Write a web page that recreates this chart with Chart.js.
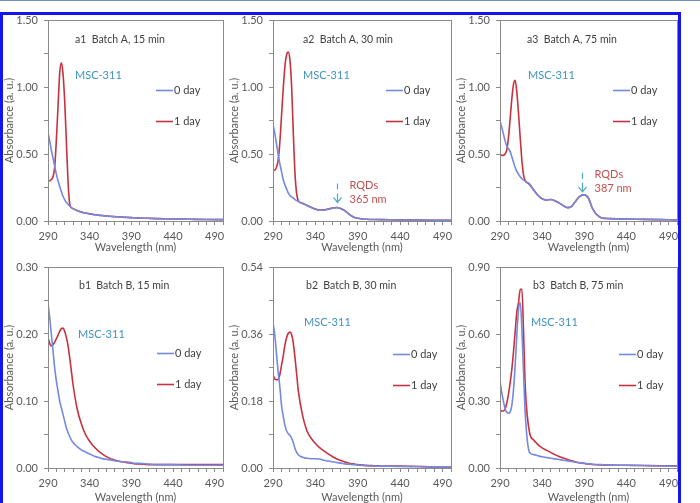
<!DOCTYPE html>
<html>
<head>
<meta charset="utf-8">
<script src="https://cdn.jsdelivr.net/npm/chart.js@4.4.0/dist/chart.umd.min.js"></script>
<style>
  html, body { margin: 0; padding: 0; background: #fff; }
  #figure { position: relative; width: 700px; height: 503px; overflow: hidden; background: #fff; }
  .panel { position: absolute; }
  #frame { position: absolute; left: 0; top: 12px; width: 675px; height: 495px; border: 3px solid #1414f0; border-bottom: none; pointer-events: none; }
  #topline { position: absolute; left: 0; top: 0; width: 700px; height: 1px; background: #7090c0; }
</style>
</head>
<body>
<div id="figure">
  <div id="topline"></div>
  <div class="panel" id="p-a1"><canvas id="c-a1"></canvas></div>
  <div class="panel" id="p-a2"><canvas id="c-a2"></canvas></div>
  <div class="panel" id="p-a3"><canvas id="c-a3"></canvas></div>
  <div class="panel" id="p-b1"><canvas id="c-b1"></canvas></div>
  <div class="panel" id="p-b2"><canvas id="c-b2"></canvas></div>
  <div class="panel" id="p-b3"><canvas id="c-b3"></canvas></div>
  <div id="frame"></div>
</div>
<script>
// wavelength grid (nm) shared by every spectrum
const wavelength = [290, 292, 294, 296, 298, 300, 302, 304, 306, 308, 310, 312, 314, 316, 318, 320,
  325, 330, 335, 340, 345, 350, 355, 360, 365, 370, 375, 380, 385, 390, 395, 400, 410, 420, 440, 460, 480, 500];

// Batch A
const a1Day0 = [0.66, 0.60, 0.53, 0.47, 0.41, 0.35, 0.30, 0.26, 0.22, 0.185, 0.16, 0.14, 0.125, 0.112, 0.10, 0.092,
  0.077, 0.066, 0.058, 0.052, 0.047, 0.043, 0.040, 0.037, 0.034, 0.032, 0.030, 0.028, 0.026, 0.025, 0.023, 0.022, 0.020, 0.018, 0.015, 0.013, 0.011, 0.010];
const a1Day1 = [0.30, 0.30, 0.31, 0.33, 0.40, 0.60, 0.85, 1.10, 1.18, 1.10, 0.90, 0.60, 0.30, 0.13, 0.10, 0.092,
  0.078, 0.067, 0.059, 0.053, 0.048, 0.044, 0.041, 0.038, 0.035, 0.033, 0.031, 0.029, 0.027, 0.025, 0.023, 0.022, 0.020, 0.018, 0.015, 0.013, 0.011, 0.010];
const a2Day0 = [0.72, 0.66, 0.58, 0.50, 0.43, 0.37, 0.31, 0.27, 0.24, 0.21, 0.19, 0.18, 0.17, 0.16, 0.152, 0.145,
  0.13, 0.115, 0.10, 0.088, 0.080, 0.082, 0.088, 0.095, 0.100, 0.092, 0.075, 0.050, 0.030, 0.020, 0.015, 0.013, 0.011, 0.010, 0.008, 0.007, 0.006, 0.005];
const a2Day1 = [0.38, 0.38, 0.40, 0.45, 0.58, 0.78, 0.98, 1.15, 1.24, 1.26, 1.20, 1.00, 0.65, 0.35, 0.20, 0.15,
  0.132, 0.117, 0.102, 0.089, 0.081, 0.083, 0.089, 0.096, 0.101, 0.093, 0.076, 0.050, 0.030, 0.020, 0.015, 0.013, 0.011, 0.010, 0.008, 0.007, 0.006, 0.005];
const a3Day0 = [0.75, 0.70, 0.65, 0.60, 0.56, 0.54, 0.52, 0.48, 0.44, 0.40, 0.37, 0.35, 0.33, 0.315, 0.305, 0.30,
  0.27, 0.23, 0.19, 0.165, 0.158, 0.16, 0.152, 0.135, 0.115, 0.10, 0.11, 0.15, 0.185, 0.195, 0.17, 0.09, 0.025, 0.018, 0.014, 0.012, 0.010, 0.008];
const a3Day1 = [0.50, 0.49, 0.49, 0.50, 0.53, 0.62, 0.76, 0.91, 1.02, 1.05, 0.96, 0.80, 0.62, 0.45, 0.34, 0.30,
  0.275, 0.232, 0.192, 0.166, 0.158, 0.16, 0.152, 0.135, 0.115, 0.10, 0.11, 0.15, 0.185, 0.195, 0.17, 0.09, 0.025, 0.018, 0.014, 0.012, 0.010, 0.008];

// Batch B
const b1Day0 = [0.245, 0.225, 0.20, 0.175, 0.15, 0.13, 0.115, 0.10, 0.09, 0.08, 0.07, 0.06, 0.053, 0.047, 0.042, 0.038,
  0.032, 0.027, 0.024, 0.021, 0.018, 0.016, 0.014, 0.013, 0.012, 0.011, 0.010, 0.009, 0.009, 0.008, 0.007, 0.007, 0.006, 0.005, 0.005, 0.004, 0.004, 0.004];
const b1Day1 = [0.195, 0.186, 0.182, 0.184, 0.188, 0.193, 0.198, 0.204, 0.208, 0.209, 0.204, 0.195, 0.183, 0.165, 0.145, 0.125,
  0.088, 0.066, 0.050, 0.040, 0.032, 0.026, 0.021, 0.017, 0.014, 0.012, 0.010, 0.009, 0.008, 0.007, 0.006, 0.006, 0.005, 0.005, 0.005, 0.005, 0.005, 0.005];
const b2Day0 = [0.39, 0.36, 0.31, 0.26, 0.22, 0.17, 0.14, 0.115, 0.10, 0.092, 0.088, 0.08, 0.068, 0.052, 0.042, 0.035,
  0.029, 0.026, 0.025, 0.025, 0.024, 0.021, 0.019, 0.017, 0.015, 0.013, 0.011, 0.010, 0.009, 0.008, 0.007, 0.006, 0.005, 0.005, 0.004, 0.004, 0.003, 0.003];
const b2Day1 = [0.25, 0.24, 0.237, 0.238, 0.25, 0.275, 0.30, 0.33, 0.35, 0.362, 0.365, 0.358, 0.335, 0.295, 0.25, 0.205,
  0.14, 0.10, 0.08, 0.066, 0.055, 0.046, 0.038, 0.031, 0.025, 0.020, 0.016, 0.013, 0.011, 0.009, 0.008, 0.007, 0.006, 0.005, 0.005, 0.004, 0.003, 0.003];
const b3Day0 = [0.39, 0.34, 0.30, 0.265, 0.25, 0.245, 0.25, 0.28, 0.35, 0.46, 0.60, 0.71, 0.74, 0.62, 0.42, 0.24,
  0.07, 0.06, 0.055, 0.05, 0.047, 0.044, 0.041, 0.038, 0.035, 0.032, 0.029, 0.026, 0.023, 0.021, 0.019, 0.017, 0.015, 0.013, 0.012, 0.011, 0.009, 0.008];
const b3Day1 = [0.26, 0.255, 0.255, 0.265, 0.29, 0.33, 0.38, 0.44, 0.52, 0.61, 0.70, 0.74, 0.80, 0.80, 0.60, 0.36,
  0.16, 0.125, 0.105, 0.09, 0.08, 0.07, 0.06, 0.052, 0.045, 0.038, 0.032, 0.027, 0.023, 0.02, 0.018, 0.016, 0.014, 0.013, 0.012, 0.011, 0.01, 0.01];

// axis ticks
const xMajor = [290, 340, 390, 440, 490];
const xMinor = [290, 300, 310, 320, 330, 340, 350, 360, 370, 380, 390, 400, 410, 420, 430, 440, 450, 460, 470, 480, 490, 500];
const yMajorA = [0, 0.5, 1.0, 1.5];
const yMajorB1 = [0, 0.1, 0.2, 0.3];
const yMajorB2 = [0, 0.18, 0.36, 0.54];
const yMajorB3 = [0, 0.3, 0.6, 0.9];

const seriesLabels = ["0 day", "1 day"];
const seriesColors = ["#7489e0", "#c8323f"];

const GRAY = "#8a8a8a";
const FONT = "Lato, 'Open Sans', sans-serif";

Chart.defaults.font.family = FONT;
Chart.defaults.font.size = 11;
Chart.defaults.color = "#595959";

// annotations drawn on top of each panel
const panelDecor = {
  id: "panelDecor",
  afterDraw(chart, args, opts) {
    const ctx = chart.ctx;
    const area = chart.chartArea;
    ctx.save();
    // plot area frame
    ctx.strokeStyle = GRAY;
    ctx.lineWidth = 1;
    ctx.strokeRect(Math.round(area.left) + 0.5, Math.round(area.top) + 0.5,
      Math.round(area.right - area.left), Math.round(area.bottom - area.top));

    ctx.textBaseline = "middle";
    ctx.textAlign = "left";

    // panel caption
    ctx.font = "10.5px " + FONT;
    ctx.fillStyle = "#404040";
    ctx.fillText(opts.caption, area.left + opts.captionPos[0], area.top + opts.captionPos[1]);

    // MSC-311 label
    ctx.font = "11px " + FONT;
    ctx.fillStyle = "#3f92c4";
    ctx.fillText("MSC-311", area.left + opts.mscPos[0], area.top + opts.mscPos[1]);

    // legend
    chart.data.datasets.forEach((ds, i) => {
      const lx = area.left + opts.legendPos[0];
      const ly = Math.round(area.top + opts.legendPos[1] + i * 31) + 0.5;
      ctx.strokeStyle = ds.borderColor;
      ctx.lineWidth = 1.6;
      ctx.beginPath();
      ctx.moveTo(lx, ly);
      ctx.lineTo(lx + 17, ly);
      ctx.stroke();
      ctx.fillStyle = "#404040";
      ctx.font = "11px " + FONT;
      ctx.fillText(ds.label, lx + 18, ly);
    });

    // RQDs arrow
    if (opts.rqd) {
      const xs = chart.scales.x;
      const ys = chart.scales.y;
      const ax = Math.round(xs.getPixelForValue(opts.rqd.x)) + 0.5;
      const top = ys.getPixelForValue(opts.rqd.y);
      ctx.strokeStyle = "#4babc7";
      ctx.lineWidth = 1.2;
      ctx.beginPath();
      ctx.moveTo(ax, top);
      ctx.lineTo(ax, top + 6);
      ctx.moveTo(ax, top + 10);
      ctx.lineTo(ax, top + 19);
      ctx.moveTo(ax - 4, top + 14);
      ctx.lineTo(ax, top + 19);
      ctx.lineTo(ax + 4, top + 14);
      ctx.stroke();
      ctx.fillStyle = "#c0504d";
      ctx.font = "11px " + FONT;
      ctx.fillText("RQDs", ax + 12, top + 2);
      ctx.fillText(opts.rqd.text, ax + 12, top + 16);
    }
    ctx.restore();
  }
};

function drawPanel(p) {
  const box = document.getElementById("p-" + p.id);
  box.style.left = p.left + "px";
  box.style.top = p.top + "px";
  box.style.width = p.width + "px";
  box.style.height = p.height + "px";

  const ctx = document.getElementById("c-" + p.id).getContext("2d");
  const yMinor = [];
  for (let i = 0; i < p.yMajor.length - 1; i++) {
    yMinor.push(p.yMajor[i], (p.yMajor[i] + p.yMajor[i + 1]) / 2);
  }
  yMinor.push(p.yMajor[p.yMajor.length - 1]);

  new Chart(ctx, {
    type: "line",
    data: {
      datasets: [p.day0, p.day1].map((vals, i) => ({
        label: seriesLabels[i],
        data: wavelength.map((w, k) => ({ x: w, y: vals[k] })),
        borderColor: seriesColors[i],
        borderWidth: 1.6,
        pointRadius: 0,
        cubicInterpolationMode: "monotone",
        fill: false,
      })),
    },
    options: {
      responsive: true,
      maintainAspectRatio: false,
      animation: false,
      events: [],
      layout: { padding: { left: 0, top: p.padTop, right: 7, bottom: 0 } },
      plugins: {
        legend: { display: false },
        tooltip: { enabled: false },
        panelDecor: {
          caption: p.caption,
          captionPos: p.captionPos,
          mscPos: p.mscPos,
          legendPos: p.legendPos,
          rqd: p.rqd,
        },
      },
      scales: {
        x: {
          type: "linear",
          min: 290,
          max: 500,
          afterBuildTicks: (scale) => { scale.ticks = xMinor.map(v => ({ value: v })); },
          afterFit: (scale) => { scale.height = p.xHeight; scale.paddingLeft = 0; scale.paddingRight = 0; },
          ticks: {
            autoSkip: false,
            maxRotation: 0,
            padding: 5,
            callback: (v) => xMajor.includes(v) ? String(v) : "",
          },
          grid: { drawOnChartArea: false, drawTicks: true, tickLength: 4, color: GRAY },
          border: { display: true, color: GRAY },
          title: { display: true, text: "Wavelength (nm)", padding: { top: 0, bottom: 0 }, font: { size: 11, lineHeight: 1 } },
        },
        y: {
          type: "linear",
          min: 0,
          max: p.yMajor[p.yMajor.length - 1],
          afterBuildTicks: (scale) => { scale.ticks = yMinor.map(v => ({ value: v })); },
          afterFit: (scale) => { scale.width = 48; scale.paddingTop = 0; scale.paddingBottom = 0; },
          ticks: {
            autoSkip: false,
            padding: 6,
            callback: (v) => p.yMajor.some(m => Math.abs(m - v) < 1e-9) ? v.toFixed(2) : "",
          },
          grid: { drawOnChartArea: false, drawTicks: true, tickLength: 4, color: GRAY },
          border: { display: true, color: GRAY },
          title: { display: true, text: "Absorbance (a. u.)", padding: { top: 3, bottom: 0 }, font: { size: 11 } },
        },
      },
    },
    plugins: [panelDecor],
  });
}

const panels = [
  { id: "a1", left: 0, top: 15, width: 230, height: 238, padTop: 5, xHeight: 32, day0: a1Day0, day1: a1Day1, yMajor: yMajorA,
    caption: "a1  Batch A, 15 min", captionPos: [27, 20], mscPos: [27, 55], legendPos: [108, 70] },
  { id: "a2", left: 225, top: 15, width: 233, height: 238, padTop: 5, xHeight: 32, day0: a2Day0, day1: a2Day1, yMajor: yMajorA,
    caption: "a2  Batch A, 30 min", captionPos: [30, 20], mscPos: [30, 55], legendPos: [113, 70],
    rqd: { x: 365, y: 0.28, text: "365 nm" } },
  { id: "a3", left: 452, top: 15, width: 232, height: 238, padTop: 5, xHeight: 32, day0: a3Day0, day1: a3Day1, yMajor: yMajorA,
    caption: "a3  Batch A, 75 min", captionPos: [27, 20], mscPos: [28, 55], legendPos: [113, 70],
    rqd: { x: 387, y: 0.36, text: "387 nm" } },
  { id: "b1", left: 0, top: 253, width: 230, height: 250, padTop: 14, xHeight: 35, day0: b1Day0, day1: b1Day1, yMajor: yMajorB1,
    caption: "b1  Batch B, 15 min", captionPos: [31, 19], mscPos: [30, 67], legendPos: [109, 86] },
  { id: "b2", left: 225, top: 253, width: 233, height: 250, padTop: 14, xHeight: 35, day0: b2Day0, day1: b2Day1, yMajor: yMajorB2,
    caption: "b2  Batch B, 30 min", captionPos: [33, 19], mscPos: [31, 55], legendPos: [120, 87] },
  { id: "b3", left: 452, top: 253, width: 232, height: 250, padTop: 14, xHeight: 35, day0: b3Day0, day1: b3Day1, yMajor: yMajorB3,
    caption: "b3  Batch B, 75 min", captionPos: [33, 19], mscPos: [31, 55], legendPos: [119, 87] },
];

panels.forEach(drawPanel);
</script>
</body>
</html>
